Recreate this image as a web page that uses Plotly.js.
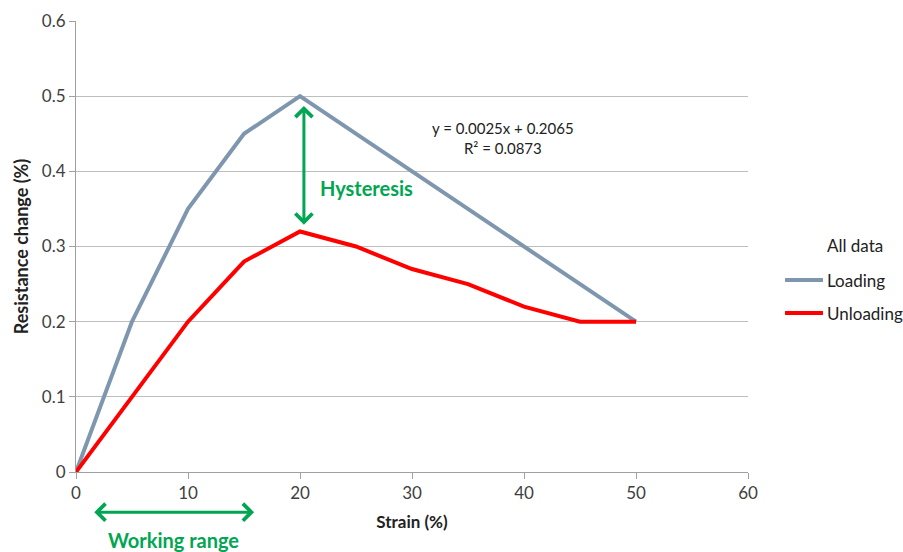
<!DOCTYPE html>
<html><head><meta charset="utf-8">
<script src="https://cdn.plot.ly/plotly-3.0.1.min.js"></script>
<style>html,body{margin:0;padding:0;background:#fff}</style>
</head><body>
<div id="chart" style="width:903px;height:552px"></div>
<script>
const strain = [0, 5, 10, 15, 20, 25, 30, 35, 40, 45, 50];
const loading = [0, 0.2, 0.35, 0.45, 0.5, 0.45, 0.4, 0.35, 0.3, 0.25, 0.2];
const unloading = [0, 0.1, 0.2, 0.28, 0.32, 0.30, 0.27, 0.25, 0.22, 0.2, 0.2];
const xTicks = [0, 10, 20, 30, 40, 50, 60];
const yTicks = [0, 0.1, 0.2, 0.3, 0.4, 0.5, 0.6];
const seriesNames = ['Loading', 'Unloading'];
const seriesColors = ['#7F96AF', '#FF0000'];
const legendTitle = 'All data';
const equationText = 'y = 0.0025x + 0.2065<br>R² = 0.0873';

const FONT = 'Lato, "Open Sans", sans-serif';
const GREEN = '#00A651';

const traces = [
  {x: strain, y: loading, name: seriesNames[0], mode: 'lines',
   line: {color: seriesColors[0], width: 4}},
  {x: strain, y: unloading, name: seriesNames[1], mode: 'lines',
   line: {color: seriesColors[1], width: 4}}
];

// manual legend (paper coordinates)
const legX0 = 1.0551, legX1 = 1.1116, legTextX = 1.1146;
const legY = [0.4257, 0.3525];
const shapes = seriesNames.map((n, i) => ({
  type: 'line', xref: 'paper', yref: 'paper', x0: legX0, x1: legX1, y0: legY[i], y1: legY[i],
  line: {color: seriesColors[i], width: 4}
}));
const legendAnn = seriesNames.map((n, i) => ({
  xref: 'paper', yref: 'paper', x: legTextX, y: legY[i], xanchor: 'left', yanchor: 'middle',
  text: n, showarrow: false, font: {size: 17, color: '#222'}
}));

const layout = {
  width: 903, height: 552,
  margin: {l: 76, r: 155, t: 21, b: 80},
  paper_bgcolor: '#fff', plot_bgcolor: '#fff',
  font: {family: FONT, size: 17, color: '#404040'},
  showlegend: false,
  xaxis: {range: [0, 60], tickvals: xTicks, ticks: 'outside', ticklen: 6,
    tickcolor: '#A0A0A0', showline: true, linecolor: '#A0A0A0', linewidth: 1,
    showgrid: false, zeroline: false, fixedrange: true,
    tickfont: {size: 17, color: '#404040'},
    title: {text: '<b>Strain (%)</b>', font: {size: 17, color: '#222'}, standoff: 13}},
  yaxis: {range: [0, 0.6], tickvals: yTicks, ticks: 'outside', ticklen: 6,
    tickcolor: '#A0A0A0', showline: true, linecolor: '#A0A0A0', linewidth: 1,
    showgrid: true, gridcolor: '#BEBEBE', gridwidth: 1, zeroline: false,
    tickfont: {size: 17, color: '#404040'},
    title: {text: '<b>Resistance change (%)</b>', font: {size: 18, color: '#222'}, standoff: 8}},
  shapes: shapes,
  annotations: legendAnn.concat([
    {xref: 'paper', yref: 'paper', x: legTextX, y: 0.5033, xanchor: 'left', yanchor: 'middle',
     text: legendTitle, showarrow: false, font: {size: 17, color: '#222'}},
    {xref: 'x', yref: 'y', x: 38.1, y: 0.445, text: equationText, showarrow: false,
     font: {size: 15, color: '#222'}, align: 'center'},
    {xref: 'x', yref: 'y', x: 20.35, y: 0.487, axref: 'x', ayref: 'y', ax: 20.35, ay: 0.327,
     text: '', showarrow: true, arrowside: 'end+start', arrowhead: 4, startarrowhead: 4,
     arrowsize: 1.1, startarrowsize: 1.1, arrowwidth: 3, arrowcolor: GREEN},
    {xref: 'x', yref: 'y', x: 21.6, y: 0.378, xanchor: 'left', yanchor: 'middle', text: '<b>Hysteresis</b>',
     showarrow: false, font: {size: 20, color: GREEN}},
    {xref: 'x', yref: 'paper', x: 15.9, y: -0.089, axref: 'x', ayref: 'pixel', ax: 1.5, ay: 0,
     text: '', showarrow: true, arrowside: 'end+start', arrowhead: 4, startarrowhead: 4,
     arrowsize: 1.1, startarrowsize: 1.1, arrowwidth: 3, arrowcolor: GREEN},
    {xref: 'x', yref: 'paper', x: 8.7, y: -0.151, yanchor: 'middle', text: '<b>Working range</b>',
     showarrow: false, font: {size: 20, color: GREEN}}
  ])
};

Plotly.newPlot('chart', traces, layout, {displayModeBar: false, staticPlot: true});
</script>
</body></html>
